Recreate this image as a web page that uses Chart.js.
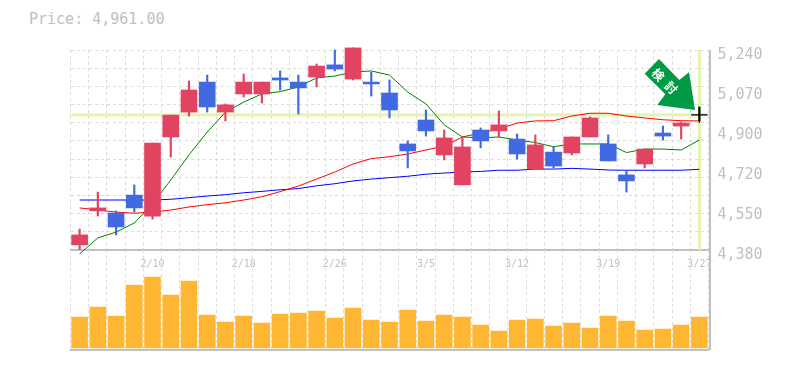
<!DOCTYPE html>
<html>
<head>
<meta charset="utf-8">
<script src="https://cdn.jsdelivr.net/npm/chart.js@4"></script>
<style>
  html, body { margin: 0; padding: 0; background: #fff; overflow: hidden; }
  canvas, #title, #rightEdge, #arrow { position: absolute; }
  #priceCanvas { left: 0; top: 0; }
  #volumeCanvas { left: 0; top: 250px; }
  #title { left: 29px; top: 10px; font: 15px "DejaVu Sans Mono", monospace; color: #c0c0c0; }
  #rightEdge { left: 709px; top: 50px; width: 2px; height: 300px; background: #c0c0c0; }
  #arrow { left: 0; top: 0; }
</style>
</head>
<body>
<div id="title">Price: 4,961.00</div>
<canvas id="priceCanvas" width="785" height="270"></canvas>
<canvas id="volumeCanvas" width="785" height="120"></canvas>
<div id="rightEdge"></div>
<svg id="arrow" width="785" height="370">
  <polygon points="659,59 644.7,73.7 665.3,94.3 657.3,105 695,110 689,72.3 679.3,80" fill="#009944"/>
  <text x="659" y="74" transform="rotate(45 659 74)" text-anchor="middle" dominant-baseline="central" font-family="Noto Sans CJK JP" font-weight="700" font-size="12" fill="#fff">検</text>
  <text x="672" y="87" transform="rotate(45 672 87)" text-anchor="middle" dominant-baseline="central" font-family="Noto Sans CJK JP" font-weight="700" font-size="12" fill="#fff">討</text>
</svg>
<script>
const dateLabels = ['','','','','2/10','','','','','2/18','','','','','2/26','','','','','3/5','','','','','3/12','','','','','3/19','','','','','3/27'];

const opens  = [4402,4548,4539,4616,4526,4866,4973,5102,4973,5051,5051,5120,5102,5124,5176,5115,5102,5055,4836,4939,4789,4660,4896,4892,4857,4728,4801,4797,4866,4836,4703,4750,4883,4913,4961];
const closes = [4445,4561,4479,4561,4840,4960,5068,4995,5004,5102,5102,5111,5077,5171,5158,5249,5094,4982,4806,4892,4862,4823,4849,4918,4793,4832,4741,4866,4948,4763,4677,4814,4870,4926,4961];
const highs  = [4470,4629,4548,4660,4840,4960,5107,5132,5008,5137,5102,5150,5132,5180,5240,5249,5145,5111,4849,4982,4896,4862,4905,4978,4879,4875,4823,4866,4952,4875,4720,4814,4913,4930,4995];
const lows   = [4382,4526,4445,4543,4513,4780,4956,4973,4935,5038,5012,5068,4965,5081,5150,5111,5042,4948,4733,4870,4767,4660,4819,4866,4771,4728,4733,4789,4866,4763,4629,4733,4853,4857,4935];

const maShort = [4363,4432,4457,4496,4578,4681,4789,4887,4973,5016,5051,5061,5081,5120,5128,5145,5150,5132,5059,5008,4918,4866,4862,4866,4853,4842,4824,4836,4836,4836,4799,4814,4814,4810,4853];
const maMid   = [4561,4552,4543,4538,4543,4552,4565,4575,4583,4595,4609,4631,4655,4685,4715,4750,4773,4781,4793,4810,4827,4866,4883,4900,4926,4935,4936,4956,4968,4968,4956,4948,4940,4936,4935];
const maLong  = [4595,4595,4595,4595,4595,4598,4605,4612,4618,4626,4632,4639,4644,4656,4665,4677,4685,4691,4697,4706,4711,4715,4718,4723,4723,4728,4728,4731,4728,4724,4723,4723,4723,4723,4727];

const volumes = [31000,41000,32000,63000,71000,53000,67000,33000,26000,32000,25000,34000,35000,37000,30000,40000,28000,26000,38000,27000,33000,31000,23000,17000,28000,29000,22000,25000,20000,32000,27000,18000,19000,23000,31000];

const priceTicks = [5240,5068,4896,4724,4552,4380];
const gridLevels = [5240,5162,5084,5006,4927,4849,4771,4693,4615,4536,4458,4380];
const lastPrice = 4961;

const upColor = '#e14360';
const downColor = '#4169e1';
const gridColor = '#dcdcdc';
const edgeColor = '#c0c0c0';
const lastIndex = dateLabels.length - 1;

function candleColor(i) {
  if (closes[i] > opens[i]) return upColor;
  if (closes[i] < opens[i]) return downColor;
  return '#000';
}

// pale lines through the latest price, under the candles
const lastPriceLines = {
  id: 'lastPriceLines',
  beforeDatasetsDraw(chart) {
    const { ctx, chartArea, scales } = chart;
    const px = scales.x.getPixelForValue(lastIndex);
    const py = scales.y.getPixelForValue(lastPrice);
    ctx.save();
    ctx.fillStyle = '#e4f4ab';
    ctx.fillRect(chartArea.left, py - 1.5, chartArea.width, 3);
    ctx.fillRect(px - 1.5, chartArea.top, 3, chartArea.height);
    ctx.restore();
  }
};

function xGrid() {
  return { offset: true, color: gridColor, lineWidth: 1, drawTicks: false };
}

new Chart(document.getElementById('priceCanvas'), {
  type: 'bar',
  plugins: [lastPriceLines],
  data: {
    labels: dateLabels,
    datasets: [
      { type: 'line', data: closes.map((c, i) => (i === lastIndex ? c : null)), showLine: false, pointStyle: 'cross', pointRadius: 8, pointBorderWidth: 1, pointBorderColor: '#000', order: 0, clip: false },
      { data: opens.map((o, i) => [o, closes[i]]), backgroundColor: opens.map((o, i) => candleColor(i)), barThickness: 16, grouped: false, order: 1, clip: false },
      { data: lows.map((l, i) => [l, highs[i]]), backgroundColor: lows.map((l, i) => candleColor(i)), barThickness: 1.5, grouped: false, order: 2, clip: false },
      { type: 'line', data: maShort, borderColor: '#008000', borderWidth: 1, pointRadius: 0, tension: 0, order: 3, clip: false },
      { type: 'line', data: maMid, borderColor: '#ff0000', borderWidth: 1, pointRadius: 0, tension: 0, order: 4, clip: false },
      { type: 'line', data: maLong, borderColor: '#0000ff', borderWidth: 1, pointRadius: 0, tension: 0, order: 5, clip: false }
    ]
  },
  options: {
    responsive: false,
    animation: false,
    layout: { padding: { left: 70.5, top: 50, right: 0, bottom: 0 } },
    plugins: { legend: { display: false }, tooltip: { enabled: false } },
    scales: {
      x: {
        offset: true,
        grid: xGrid(),
        border: { display: true, color: edgeColor, width: 2, dash: [3, 3] },
        ticks: { autoSkip: false, maxRotation: 0, padding: 8, color: edgeColor, font: { family: 'DejaVu Sans Mono', size: 10 } },
        afterFit(s) { s.height = 20; }
      },
      y: {
        position: 'right',
        min: 4380,
        max: 5240,
        afterBuildTicks(s) { s.ticks = priceTicks.map(v => ({ value: v })); },
        afterFit(s) { s.width = 76.5; },
        grid: { display: false },
        border: { display: false },
        ticks: {
          autoSkip: false,
          padding: 1,
          color: edgeColor,
          font: { family: 'DejaVu Sans Mono', size: 15, lineHeight: '10px' },
          // blank first line drops the label below its level
          callback(v) { return ['', (Math.round(v / 10) * 10).toLocaleString('en-US')]; }
        }
      },
      yGrid: {
        position: 'left',
        min: 4380,
        max: 5240,
        afterBuildTicks(s) { s.ticks = gridLevels.map(v => ({ value: v })); },
        afterFit(s) { s.width = 0; },
        grid: { color: gridColor, lineWidth: 1, drawTicks: false },
        border: { display: false, dash: [3, 3] },
        ticks: { display: false }
      }
    }
  }
});

new Chart(document.getElementById('volumeCanvas'), {
  type: 'bar',
  data: {
    labels: dateLabels,
    datasets: [{ data: volumes, backgroundColor: '#ffb733', barThickness: 16 }]
  },
  options: {
    responsive: false,
    animation: false,
    layout: { padding: { left: 70.5, top: 0, right: 76.5, bottom: 20 } },
    plugins: { legend: { display: false }, tooltip: { enabled: false } },
    scales: {
      x: {
        offset: true,
        grid: xGrid(),
        border: { display: true, color: edgeColor, width: 2, dash: [3, 3] },
        ticks: { display: false }
      },
      y: {
        min: -2000,
        max: 98000,
        display: false
      }
    }
  }
});
</script>
</body>
</html>
